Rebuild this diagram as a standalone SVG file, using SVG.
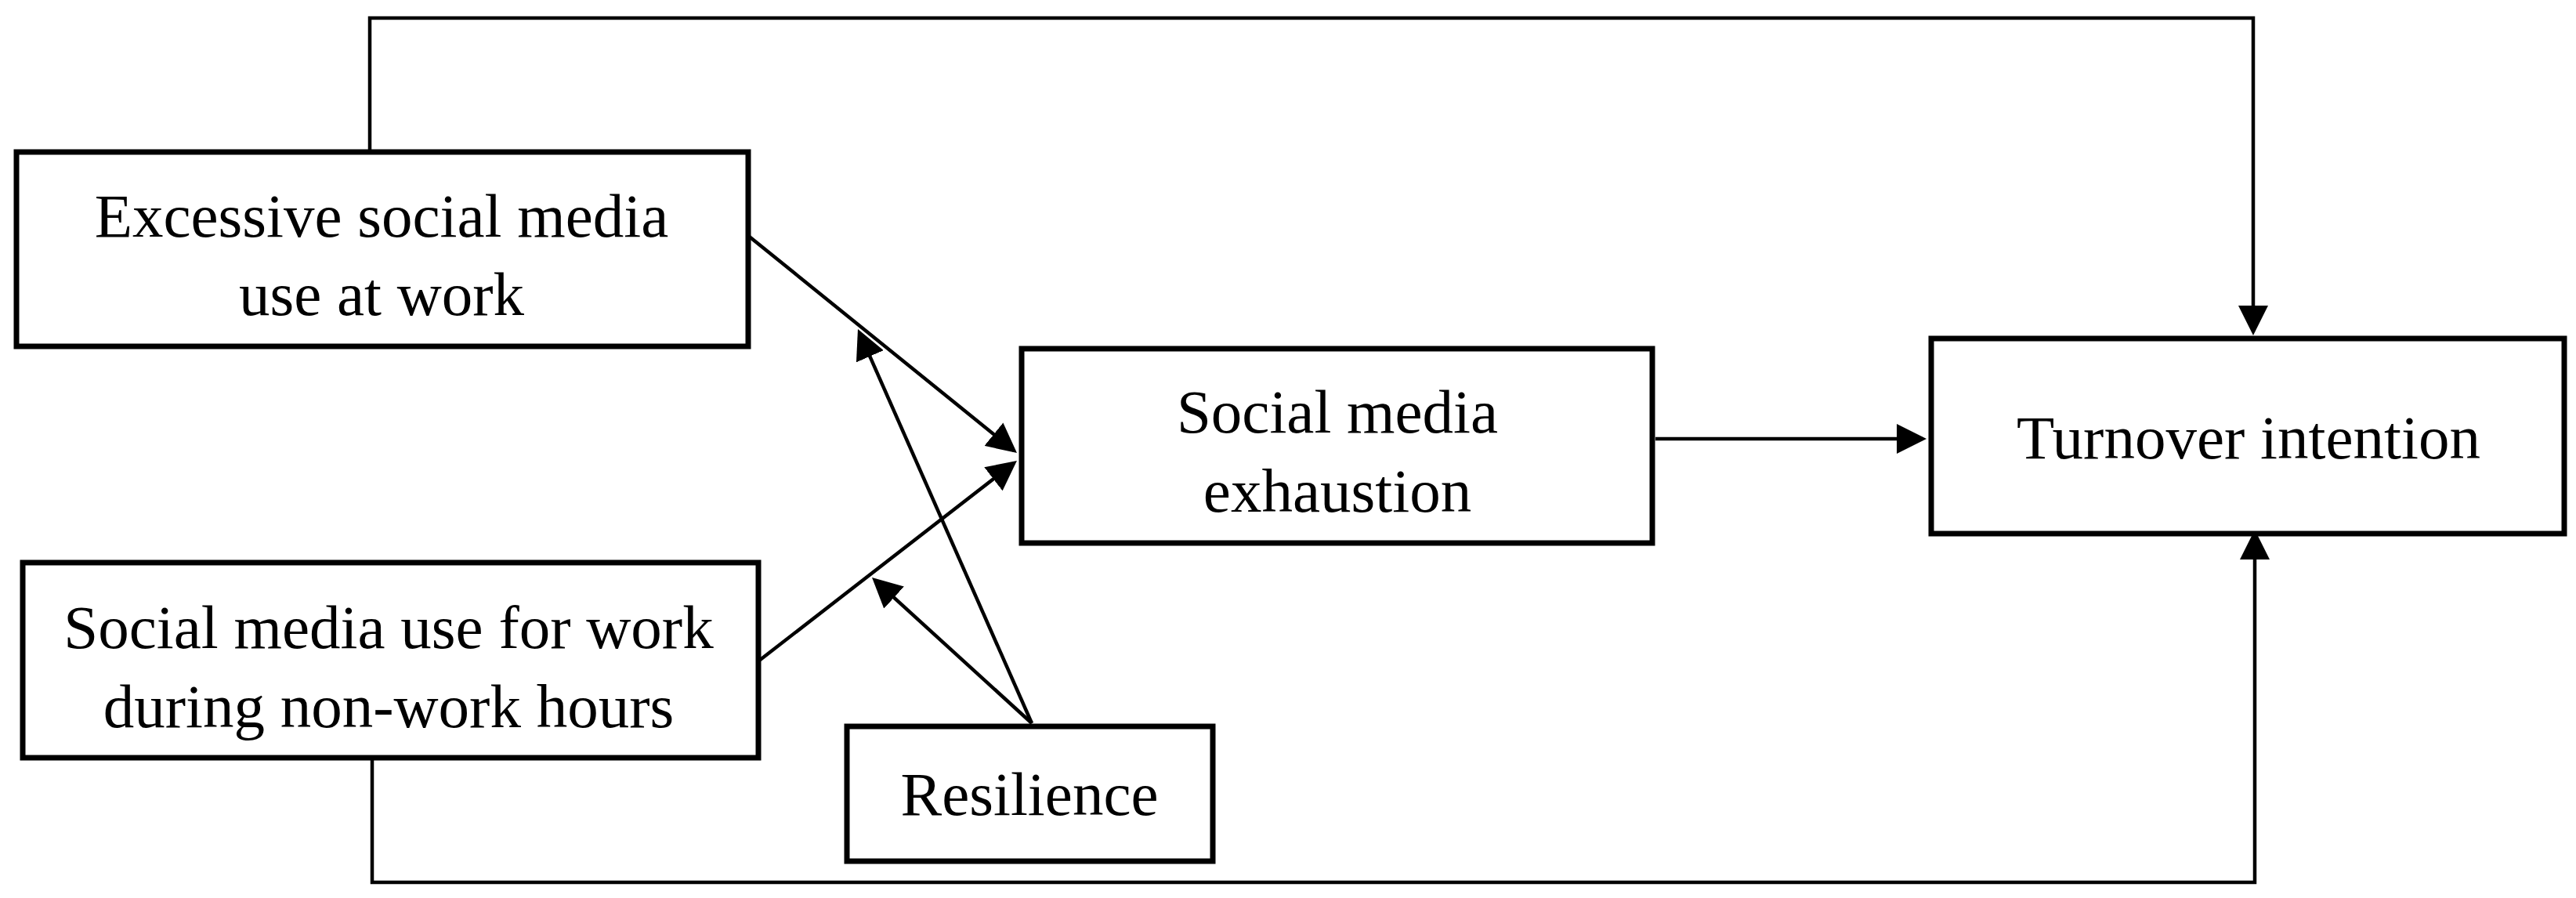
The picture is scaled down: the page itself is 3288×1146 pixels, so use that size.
<svg xmlns="http://www.w3.org/2000/svg" width="3288" height="1146" viewBox="0 0 3288 1146">
<style>
.box{fill:#fff;stroke:#000;stroke-width:7}
.lbl{font-family:"Liberation Serif","Times New Roman",serif;font-size:79px;fill:#000;text-anchor:middle}
.con{fill:none;stroke:#000;stroke-width:4.5;stroke-linecap:butt;stroke-linejoin:miter}
</style>
<defs>
<marker id="ah" markerUnits="userSpaceOnUse" markerWidth="38" markerHeight="38" refX="33" refY="19" orient="auto" viewBox="0 0 38 38">
<path d="M0,0 L38,19 L0,38 z" fill="#000"/>
</marker>
</defs>
<rect width="3288" height="1146" fill="#fff"/>
<g id="connectors">
<path class="con" d="M472,191 V23 H2876 V423" marker-end="url(#ah)"/>
<path class="con" d="M475,970 V1126 H2878 V681" marker-end="url(#ah)"/>
<line class="con" x1="954" y1="300" x2="1294.1" y2="574.9" marker-end="url(#ah)"/>
<line class="con" x1="969" y1="843" x2="1294" y2="591.1" marker-end="url(#ah)"/>
<line class="con" x1="1317" y1="923" x2="1097" y2="424.6" marker-end="url(#ah)"/>
<line class="con" x1="1317" y1="923" x2="1116.7" y2="740.4" marker-end="url(#ah)"/>
<line class="con" x1="2113" y1="560" x2="2454" y2="560" marker-end="url(#ah)"/>
</g>
<g id="node-excessive">
<rect class="box" x="21" y="194" width="934" height="248"/>
<text class="lbl" x="487" y="302">Excessive social media</text>
<text class="lbl" x="487" y="402">use at work</text>
</g>
<g id="node-nonwork">
<rect class="box" x="29" y="718" width="939" height="249"/>
<text class="lbl" x="496" y="827">Social media use for work</text>
<text class="lbl" x="496" y="928">during non-work hours</text>
</g>
<g id="node-exhaustion">
<rect class="box" x="1304" y="445" width="805" height="248"/>
<text class="lbl" x="1707" y="552">Social media</text>
<text class="lbl" x="1707" y="653">exhaustion</text>
</g>
<g id="node-turnover">
<rect class="box" x="2465" y="432" width="808" height="249"/>
<text class="lbl" x="2870" y="585">Turnover intention</text>
</g>
<g id="node-resilience">
<rect class="box" x="1081" y="927" width="467" height="172"/>
<text class="lbl" x="1314" y="1040">Resilience</text>
</g>
</svg>
